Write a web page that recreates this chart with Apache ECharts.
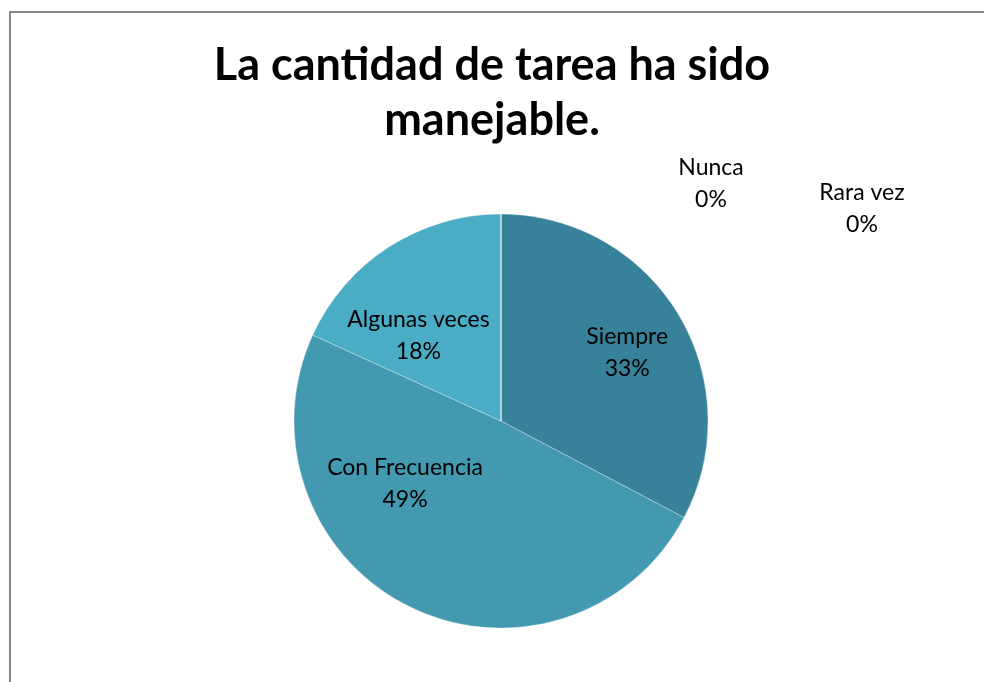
<!DOCTYPE html>
<html>
<head>
<meta charset="utf-8">
<script src="https://cdn.jsdelivr.net/npm/echarts@6/dist/echarts.min.js"></script>
<style>
  html, body { margin: 0; padding: 0; background: #fff; overflow: hidden; }
  #frame { position: absolute; left: 9px; top: 11px; width: 1100px; height: 800px; border-left: 2px solid #878787; border-top: 2px solid #878787; }
  #chart { position: absolute; left: 0; top: 0; width: 984px; height: 682px; }
</style>
</head>
<body>
<div id="frame"></div>
<div id="chart"></div>
<script>
const categories = ['Siempre', 'Con Frecuencia', 'Algunas veces', 'Nunca', 'Rara vez']
const counts = [18, 27, 10, 0, 0]
const sliceColors = ['#38819A', '#4399B0', '#4BACC6', '#5fb8d0', '#7fc6d9']
// label nudges so the labels sit where the original places them
const labelOffsets = [[35, -13], [-49, -33], [-25, 4], [210, -131], [361, -106]]

const chart = echarts.init(document.getElementById('chart'))

const option = {
  animation: false,
  title: {
    text: 'La cantidad de tarea ha sido\nmanejable.',
    left: 'center',
    top: 33,
    textStyle: {
      fontFamily: 'Lato',
      fontWeight: 'bold',
      fontSize: 45,
      lineHeight: 55,
      color: '#000'
    }
  },
  series: [{
    type: 'pie',
    center: [501, 421],
    radius: [0, 207],
    startAngle: 90,
    clockwise: true,
    avoidLabelOverlap: false,
    itemStyle: {
      borderColor: 'rgba(255,255,255,0.5)',
      borderWidth: 0.6
    },
    label: {
      show: true,
      position: 'inside',
      fontFamily: 'Lato',
      fontSize: 23,
      lineHeight: 32,
      color: '#000',
      formatter: p => p.name + '\n' + Math.round(p.percent) + '%'
    },
    labelLine: { show: false },
    emphasis: { disabled: true },
    data: categories.map((name, i) => ({
      name,
      value: counts[i],
      itemStyle: { color: sliceColors[i] },
      label: { offset: labelOffsets[i] }
    }))
  }]
}

chart.setOption(option)
</script>
</body>
</html>
